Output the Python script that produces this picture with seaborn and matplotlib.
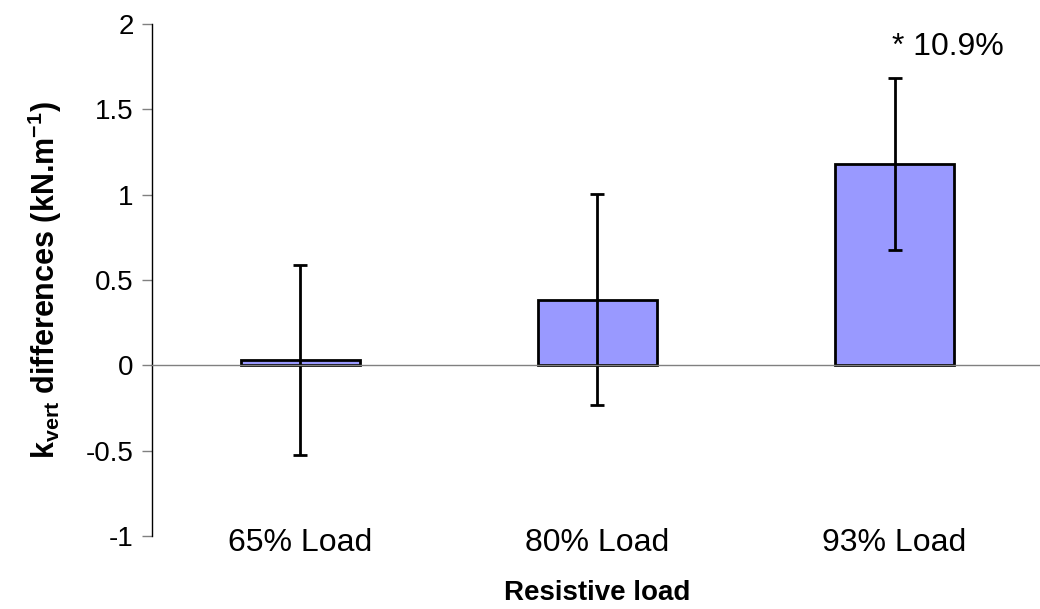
import numpy as np
import matplotlib.pyplot as plt
import seaborn as sns

# data
loads = ["65% Load", "80% Load", "93% Load"]
kvert_diff = [0.03, 0.385, 1.18]
kvert_sd = [0.555, 0.62, 0.505]
note_text = "* 10.9%"

sns.set_style("white")
plt.rcParams['font.family'] = ['Liberation Sans', 'DejaVu Sans']
plt.rcParams['mathtext.fontset'] = 'custom'
plt.rcParams['mathtext.rm'] = 'Liberation Sans'
plt.rcParams['mathtext.bf'] = 'Liberation Sans:bold'
plt.rcParams['mathtext.default'] = 'bf'
for k in ['text.color', 'axes.labelcolor', 'xtick.labelcolor', 'ytick.labelcolor']:
    plt.rcParams[k] = 'black'

fig = plt.figure(figsize=(10.4, 6.09), dpi=100)
ax = fig.add_axes([0.146, 0.12, 0.857, 0.8406])

sns.barplot(x=loads, y=kvert_diff, color="#9999FF", saturation=1,
            width=0.4, edgecolor="black", linewidth=2, ax=ax)
ax.errorbar(np.arange(len(loads)), kvert_diff, yerr=kvert_sd, fmt="none",
            ecolor="black", elinewidth=2, capsize=5, capthick=2)

ax.text(1.99, 1.865, note_text, ha="left", va="center", fontsize=23)

ax.set_xlim(-0.5, 2.5)
ax.set_ylim(-1, 2)
ax.set_yticks([-1, -0.5, 0, 0.5, 1, 1.5, 2])
ax.set_yticklabels(["-1", "-0.5", "0", "0.5", "1", "1.5", "2"])

for s in ["top", "right"]:
    ax.spines[s].set_visible(False)
ax.spines["bottom"].set_position(("data", 0))
ax.spines["bottom"].set_color("#808080")
ax.spines["bottom"].set_linewidth(1)
ax.spines["left"].set_color("black")
ax.spines["left"].set_linewidth(1)

ax.set_xticks([0.5, 1.5], minor=True)
ax.tick_params(axis="x", which="major", length=0, pad=117, labelsize=23)
ax.tick_params(axis="x", which="minor", length=9, width=1, color="#808080",
               direction="out")
ax.tick_params(axis="y", length=7, width=1, color="#808080", direction="out",
               labelsize=20, pad=6, left=True)

ax.set_xlabel("Resistive load", fontsize=20, fontweight="bold", labelpad=16)
ax.set_ylabel(r"k$_{vert}$ differences (kN.m$^{-1}$)", fontsize=22,
              fontweight="bold", labelpad=16)

fig.savefig("out.png", dpi=100)
